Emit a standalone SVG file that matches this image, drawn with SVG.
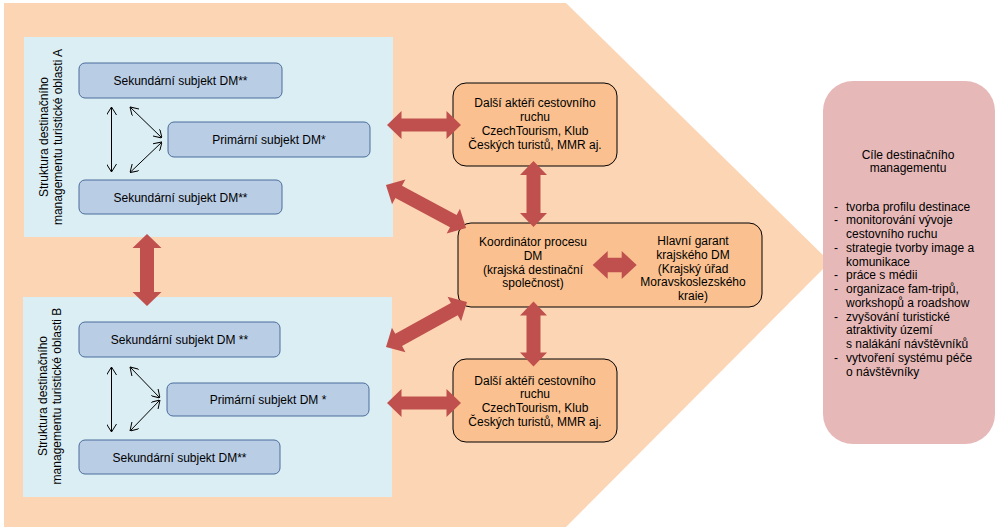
<svg xmlns="http://www.w3.org/2000/svg" width="1000" height="530" viewBox="0 0 1000 530">
<defs>
<style>
.t{font-family:"Liberation Sans",Arial,sans-serif;font-size:12px;fill:#000;}
.c{text-anchor:middle;}
.panel{fill:#DBEEF4;}
.sub{fill:#B9CDE5;stroke:#4A6C9B;stroke-width:1;}
.org{fill:#FAC090;stroke:#000;stroke-width:1;}
.big{fill:#C0504D;}
.thin{stroke:#000;stroke-width:1;fill:none;marker-start:url(#ah);marker-end:url(#ah);}
</style>
<marker id="ah" viewBox="0 0 8 10" refX="8" refY="5" markerWidth="8" markerHeight="10" markerUnits="userSpaceOnUse" orient="auto-start-reverse">
<path d="M0,0 L8,5 L0,10" fill="none" stroke="#000" stroke-width="1"/>
</marker>
</defs>
<rect width="1000" height="530" fill="#fff"/>
<polygon id="background" points="4,3 566,3 830,262 566,527 4,527" fill="#FCD5B5"/>

<g id="panelA">
<rect class="panel" x="24" y="37" width="369" height="200"/>
<text class="t c" transform="translate(48,137) rotate(-90)"><tspan x="0" y="0">Struktura destinačního</tspan><tspan x="0" y="14">managementu turistické oblasti A</tspan></text>
</g>
<g id="panelB">
<rect class="panel" x="23" y="297" width="369" height="200"/>
<text class="t c" transform="translate(47,396) rotate(-90)"><tspan x="0" y="0">Struktura destinačního</tspan><tspan x="0" y="14">managementu turistické oblasti B</tspan></text>
</g>

<g id="secA1"><rect class="sub" x="79" y="63" width="203" height="35" rx="6"/><text class="t c" x="180.5" y="85">Sekundární subjekt DM**</text></g>
<g id="primA"><rect class="sub" x="168" y="122" width="202" height="35" rx="6"/><text class="t c" x="269" y="144">Primární subjekt DM*</text></g>
<g id="secA2"><rect class="sub" x="79" y="180" width="203" height="34" rx="6"/><text class="t c" x="180.5" y="201.5">Sekundární subjekt DM**</text></g>

<g id="secB1"><rect class="sub" x="79" y="322" width="201" height="35" rx="6"/><text class="t c" x="179.5" y="344">Sekundární subjekt DM **</text></g>
<g id="primB"><rect class="sub" x="167" y="383" width="202" height="33" rx="6"/><text class="t c" x="268" y="404">Primární subjekt DM *</text></g>
<g id="secB2"><rect class="sub" x="79" y="440" width="201" height="34" rx="6"/><text class="t c" x="179.5" y="461.5">Sekundární subjekt DM**</text></g>

<g id="actorsTop"><rect class="org" x="453" y="83" width="164" height="83" rx="13"/>
<text class="t c"><tspan x="535" y="107.3">Další aktéři cestovního</tspan><tspan x="535" y="121.2">ruchu</tspan><tspan x="535" y="135.1">CzechTourism, Klub</tspan><tspan x="535" y="149">Českých turistů, MMR aj.</tspan></text></g>

<g id="actorsBottom"><rect class="org" x="453" y="359" width="164" height="83" rx="13"/>
<text class="t c"><tspan x="535" y="384.5">Další aktéři cestovního</tspan><tspan x="535" y="398.4">ruchu</tspan><tspan x="535" y="412.3">CzechTourism, Klub</tspan><tspan x="535" y="426.2">Českých turistů, MMR aj.</tspan></text></g>

<g id="coordinator"><rect class="org" x="458" y="223" width="304" height="84" rx="13"/>
<text class="t c"><tspan x="533" y="246.3">Koordinátor procesu</tspan><tspan x="533" y="260">DM</tspan><tspan x="533" y="273.7">(krajská destinační</tspan><tspan x="533" y="287.4">společnost)</tspan></text>
<text class="t c"><tspan x="693" y="245.3">Hlavní garant</tspan><tspan x="693" y="259">krajského DM</tspan><tspan x="693" y="272.7">(Krajský úřad</tspan><tspan x="693" y="286.4">Moravskoslezského</tspan><tspan x="693" y="300.1">kraie)</tspan></text>
</g>

<g id="goals"><rect x="823" y="81" width="172" height="363" rx="30" fill="#E6B9B8"/>
<text class="t c"><tspan x="908" y="159">Cíle destinačního</tspan><tspan x="908" y="171.5">managementu</tspan></text>
<text class="t"><tspan x="834" y="210.5">-</tspan><tspan x="846" y="210.5">tvorba profilu destinace</tspan>
<tspan x="834" y="224.3">-</tspan><tspan x="846" y="224.3">monitorování vývoje</tspan>
<tspan x="846" y="238">cestovního ruchu</tspan>
<tspan x="834" y="251.8">-</tspan><tspan x="846" y="251.8">strategie tvorby image a</tspan>
<tspan x="846" y="265.5">komunikace</tspan>
<tspan x="834" y="279.3">-</tspan><tspan x="846" y="279.3">práce s médii</tspan>
<tspan x="834" y="293">-</tspan><tspan x="846" y="293">organizace fam-tripů,</tspan>
<tspan x="846" y="306.8">workshopů a roadshow</tspan>
<tspan x="834" y="320.5">-</tspan><tspan x="846" y="320.5">zvyšování turistické</tspan>
<tspan x="846" y="334.3">atraktivity území</tspan>
<tspan x="846" y="348">s nalákání návštěvníků</tspan>
<tspan x="834" y="361.8">-</tspan><tspan x="846" y="361.8">vytvoření systému péče</tspan>
<tspan x="846" y="375.5">o návštěvníky</tspan></text>
</g>

<g id="connectors">
<line class="thin" x1="111.5" y1="107" x2="111.5" y2="172"/>
<line class="thin" x1="130" y1="107" x2="162" y2="138"/>
<line class="thin" x1="162" y1="142" x2="130" y2="172.5"/>
<line class="thin" x1="111.5" y1="367" x2="111.5" y2="432"/>
<line class="thin" x1="130" y1="367" x2="160" y2="398"/>
<line class="thin" x1="160" y1="400" x2="130" y2="431"/>

<path class="big" transform="translate(424,125)" d="M-37,0 L-22.5,-14 L-22.5,-6.5 L22.5,-6.5 L22.5,-14 L37,0 L22.5,14 L22.5,6.5 L-22.5,6.5 L-22.5,14 Z"/>
<path class="big" transform="translate(424,403)" d="M-37,0 L-22.5,-14 L-22.5,-6.5 L22.5,-6.5 L22.5,-14 L37,0 L22.5,14 L22.5,6.5 L-22.5,6.5 L-22.5,14 Z"/>
<path class="big" transform="translate(147,270) rotate(90)" d="M-36,0 L-22,-14.5 L-22,-7 L22,-7 L22,-14.5 L36,0 L22,14.5 L22,7 L-22,7 L-22,14.5 Z"/>
<path class="big" transform="translate(533.5,194) rotate(90)" d="M-33,0 L-19,-13.5 L-19,-7 L19,-7 L19,-13.5 L33,0 L19,13.5 L19,7 L-19,7 L-19,13.5 Z"/>
<path class="big" transform="translate(533.5,334) rotate(90)" d="M-32.5,0 L-18.5,-13.5 L-18.5,-7 L18.5,-7 L18.5,-13.5 L32.5,0 L18.5,13.5 L18.5,7 L-18.5,7 L-18.5,13.5 Z"/>
<path class="big" transform="translate(614.7,265)" d="M-22,0 L-7,-14 L-7,-7.3 L7,-7.3 L7,-14 L22,0 L7,14 L7,7.3 L-7,7.3 L-7,14 Z"/>
<path class="big" transform="translate(426,206.5) rotate(28.3)" d="M-45.5,0 L-31,-14 L-31,-7 L31,-7 L31,-14 L45.5,0 L31,14 L31,7 L-31,7 L-31,14 Z"/>
<path class="big" transform="translate(426.5,324.5) rotate(-29)" d="M-46.3,0 L-31.8,-14 L-31.8,-7 L31.8,-7 L31.8,-14 L46.3,0 L31.8,14 L31.8,7 L-31.8,7 L-31.8,14 Z"/>
</g>
</svg>
